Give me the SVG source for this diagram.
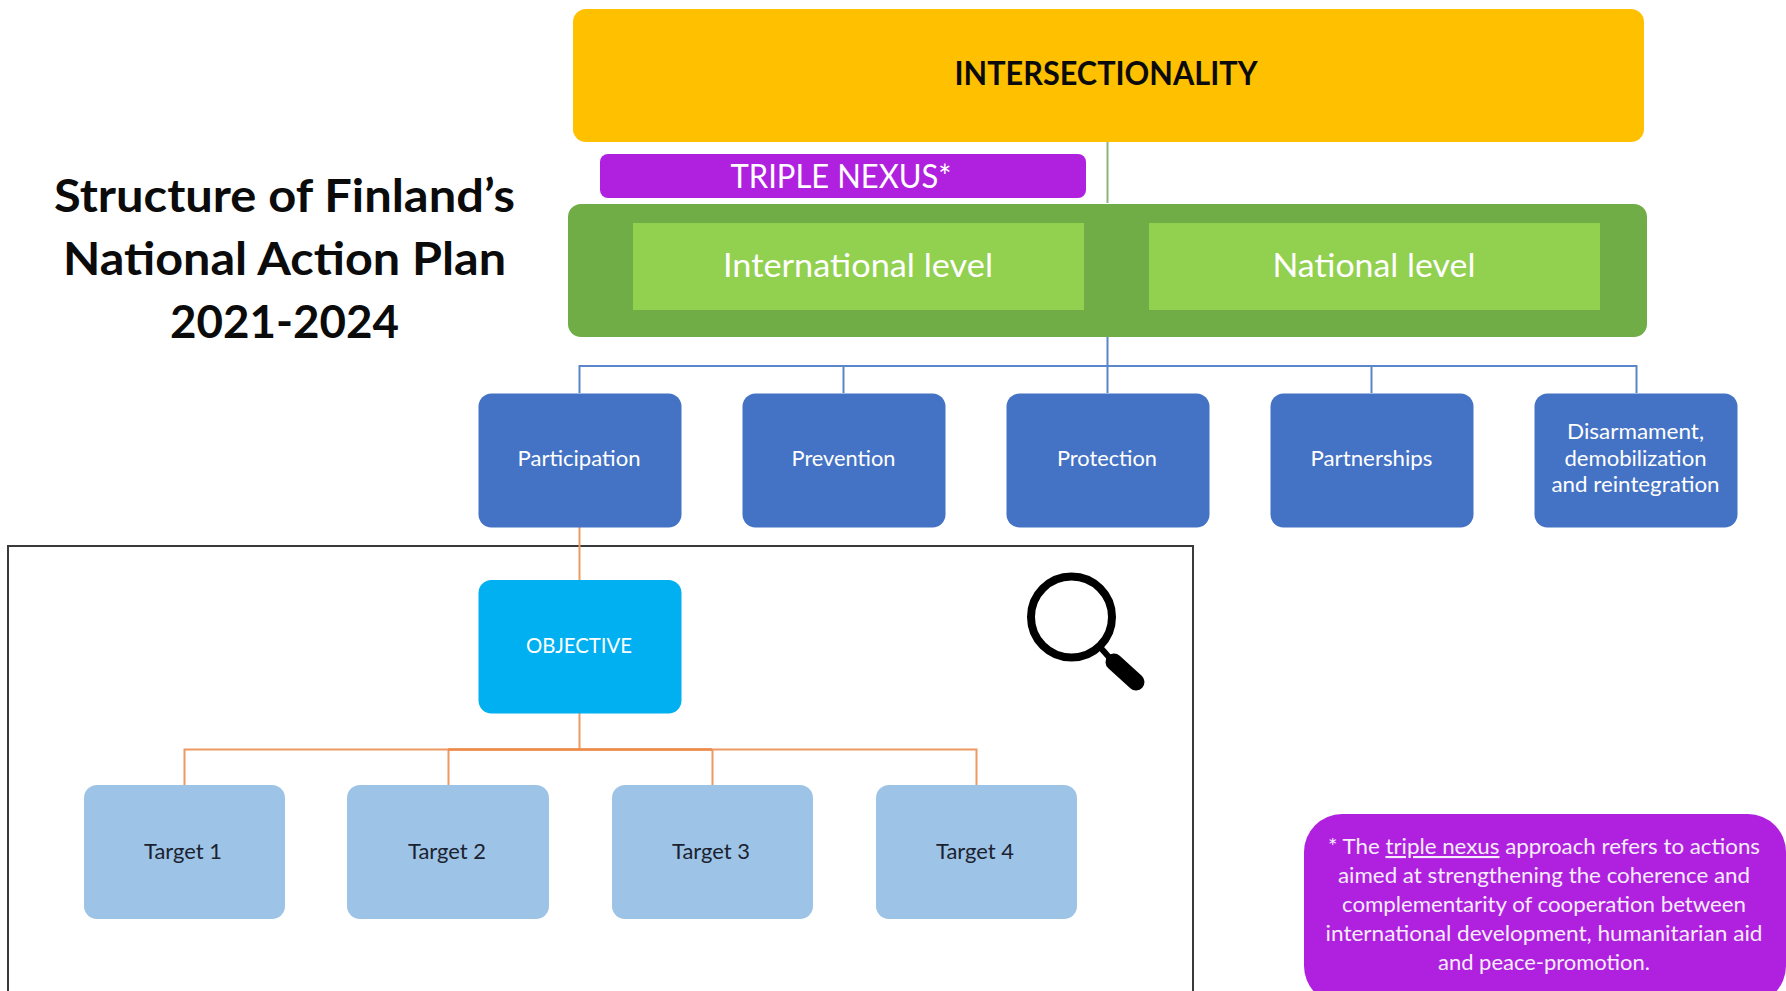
<svg xmlns="http://www.w3.org/2000/svg" width="1786" height="991" viewBox="0 0 1786 991">
<style>
text{font-family:"Lato","Open Sans","Liberation Sans",sans-serif;text-anchor:middle;fill:#fff}
.big{font-size:33px}
.n{font-size:21px}
.t{fill:#1b2230}
.note{font-size:21px;fill:#f6ecfb}
.blue{fill:#4472c4}
.tg{fill:#9dc3e6}
.lb{stroke:#5b86cc;stroke-width:2;fill:none}
.lo{stroke:#ed9a62;stroke-width:2;fill:none}
</style>
<rect width="1786" height="991" fill="#fff"/>
<rect id="zoom-frame" x="8" y="546" width="1185" height="460" fill="none" stroke="#3a3a3a" stroke-width="2"/>
<g id="connectors">
<path d="M1107.500 142V203" stroke="#8fb27a" stroke-width="2" fill="none"/>
<path class="lb" d="M1107.500 337V393M579.500 393V366H1636.500V393M843.500 366V393M1371.500 366V393"/>
<path class="lo" d="M579.500 527V580"/>
<path class="lo" d="M579.500 713V749.500M184.500 785V749.500H976.500V785M448.500 749.500V785M712.500 749.500V785"/>
<path d="M448 749.500H712" stroke="#ed8a48" stroke-width="2.500" fill="none"/>
</g>
<g id="title"><text x="284.500" y="212" style="font-size:46px;font-weight:700;fill:#0b0b0b" textLength="461" lengthAdjust="spacingAndGlyphs">Structure of Finland’s</text>
<text x="284.500" y="275" style="font-size:46px;font-weight:700;fill:#0b0b0b" textLength="443" lengthAdjust="spacingAndGlyphs">National Action Plan</text>
<text x="284.500" y="338" style="font-size:46px;font-weight:700;fill:#0b0b0b" textLength="229" lengthAdjust="spacingAndGlyphs">2021-2024</text></g>
<g id="intersectionality"><rect x="573" y="9" width="1071" height="133" rx="13" fill="#ffc000"/><text x="1106" y="85" class="big" style="font-weight:700;fill:#0b0b0b" textLength="303" lengthAdjust="spacingAndGlyphs">INTERSECTIONALITY</text></g>
<g id="triple-nexus"><rect x="600" y="154" width="486" height="44" rx="8" fill="#b021df"/><text x="841" y="188" class="big" textLength="221" lengthAdjust="spacingAndGlyphs">TRIPLE NEXUS*</text></g>
<g id="levels"><rect x="568" y="204" width="1079" height="133" rx="13" fill="#70ad47"/></g>
<g id="international"><rect x="633" y="223" width="451" height="87" fill="#92d050"/><text x="858" y="277" class="big" textLength="270" lengthAdjust="spacingAndGlyphs">International level</text></g>
<g id="national"><rect x="1149" y="223" width="451" height="87" fill="#92d050"/><text x="1374" y="277" class="big" textLength="203" lengthAdjust="spacingAndGlyphs">National level</text></g>
<g id="participation"><rect class="blue" x="478.500" y="393.500" width="203" height="134" rx="13"/><text x="579" y="466" class="n" textLength="123" lengthAdjust="spacingAndGlyphs">Participation</text></g>
<g id="prevention"><rect class="blue" x="742.500" y="393.500" width="203" height="134" rx="13"/><text x="843.500" y="466" class="n" textLength="104" lengthAdjust="spacingAndGlyphs">Prevention</text></g>
<g id="protection"><rect class="blue" x="1006.500" y="393.500" width="203" height="134" rx="13"/><text x="1107" y="466" class="n" textLength="100" lengthAdjust="spacingAndGlyphs">Protection</text></g>
<g id="partnerships"><rect class="blue" x="1270.500" y="393.500" width="203" height="134" rx="13"/><text x="1371.500" y="466" class="n" textLength="122" lengthAdjust="spacingAndGlyphs">Partnerships</text></g>
<g id="ddr"><rect class="blue" x="1534.500" y="393.500" width="203" height="134" rx="13"/><text x="1635.500" y="439" class="n" textLength="137" lengthAdjust="spacingAndGlyphs">Disarmament,</text><text x="1635.500" y="466" class="n" textLength="142" lengthAdjust="spacingAndGlyphs">demobilization</text><text x="1635.500" y="492" class="n" textLength="168" lengthAdjust="spacingAndGlyphs">and reintegration</text></g>
<g id="objective"><rect x="478.500" y="580" width="203" height="133.500" rx="13" fill="#00b0f0"/><text x="579" y="653" class="n" textLength="106" lengthAdjust="spacingAndGlyphs">OBJECTIVE</text></g>
<g id="target-1"><rect class="tg" x="84" y="785" width="201" height="134" rx="13"/><text x="183" y="859" class="n t" textLength="78" lengthAdjust="spacingAndGlyphs">Target 1</text></g>
<g id="target-2"><rect class="tg" x="347" y="785" width="202" height="134" rx="13"/><text x="447" y="859" class="n t" textLength="78" lengthAdjust="spacingAndGlyphs">Target 2</text></g>
<g id="target-3"><rect class="tg" x="612" y="785" width="201" height="134" rx="13"/><text x="711" y="859" class="n t" textLength="78" lengthAdjust="spacingAndGlyphs">Target 3</text></g>
<g id="target-4"><rect class="tg" x="876" y="785" width="201" height="134" rx="13"/><text x="975" y="859" class="n t" textLength="78" lengthAdjust="spacingAndGlyphs">Target 4</text></g>
<g id="magnifier"><circle cx="1071.500" cy="617" r="40.500" fill="none" stroke="#000" stroke-width="8"/><path d="M1100 647L1115 664" stroke="#000" stroke-width="6" fill="none"/><path d="M1114 662L1136 682" stroke="#000" stroke-width="17" stroke-linecap="round" fill="none"/></g>
<g id="note"><rect x="1304" y="814" width="482" height="190" rx="38" fill="#b021df"/>
<text x="1544" y="854" class="note" textLength="432" lengthAdjust="spacingAndGlyphs">* The <tspan text-decoration="underline">triple nexus</tspan> approach refers to actions</text>
<text x="1544" y="883" class="note" textLength="412" lengthAdjust="spacingAndGlyphs">aimed at strengthening the coherence and</text>
<text x="1544" y="912" class="note" textLength="404" lengthAdjust="spacingAndGlyphs">complementarity of cooperation between</text>
<text x="1544" y="941" class="note" textLength="437" lengthAdjust="spacingAndGlyphs">international development, humanitarian aid</text>
<text x="1544" y="970" class="note" textLength="212" lengthAdjust="spacingAndGlyphs">and peace-promotion.</text></g>
</svg>
